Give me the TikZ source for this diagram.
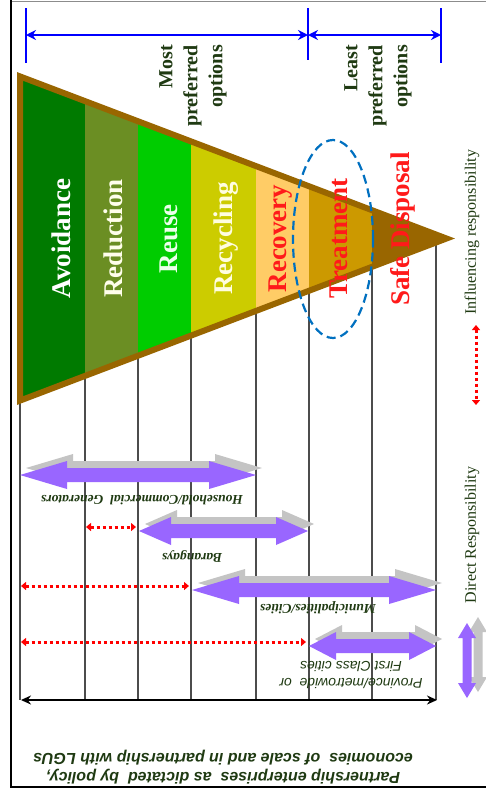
\documentclass[tikz,border=0pt]{standalone}
\usepackage{fontspec}
\setmainfont{Liberation Serif}
\newfontfamily\arialfont{Liberation Sans}
\usetikzlibrary{arrows.meta,calc,shapes.geometric}
\definecolor{avoidc}{HTML}{007A00}
\definecolor{reducec}{HTML}{6B8E23}
\definecolor{reusec}{HTML}{00CC00}
\definecolor{recyclec}{HTML}{CCCC00}
\definecolor{recoverc}{HTML}{FFCC66}
\definecolor{treatc}{HTML}{CC9900}
\definecolor{disposec}{HTML}{996600}
\definecolor{rimc}{HTML}{996600}
\definecolor{dirc}{HTML}{9966FF}
\definecolor{ghostc}{HTML}{C4C4C4}
\definecolor{txtc}{HTML}{1F3A12}
\definecolor{prefc}{HTML}{0000FF}
\definecolor{ovalc}{HTML}{0070C0}
\definecolor{labred}{HTML}{FF1A1A}
\newlength{\hwid}\setlength{\hwid}{14pt}
\newlength{\swid}\setlength{\swid}{7pt}
% block double arrow: style, left end, right end, head length
\newcommand{\dblarrow}[4]{%
  \fill[#1] let \p1=(#2), \p2=(#3) in
    (\x1,\y1) -- (\x1+#4,\y1+\hwid) -- (\x1+#4,\y1+\swid) -- (\x2-#4,\y1+\swid)
    -- (\x2-#4,\y1+\hwid) -- (\x2,\y1) -- (\x2-#4,\y1-\hwid) -- (\x2-#4,\y1-\swid)
    -- (\x1+#4,\y1-\swid) -- (\x1+#4,\y1-\hwid) -- cycle;}
% same, upright: style, top end, bottom end, head length
\newcommand{\dblarrowv}[4]{%
  \fill[#1] let \p1=(#2), \p2=(#3) in
    (\x1,\y1) -- (\x1+9pt,\y1-#4) -- (\x1+4.5pt,\y1-#4) -- (\x1+4.5pt,\y2+#4)
    -- (\x1+9pt,\y2+#4) -- (\x1,\y2) -- (\x1-9pt,\y2+#4) -- (\x1-4.5pt,\y2+#4)
    -- (\x1-4.5pt,\y1-#4) -- (\x1-9pt,\y1-#4) -- cycle;}

\begin{document}
\begin{tikzpicture}[
  x=1pt,
  y=-1pt,
  band/.style={rotate=90, anchor=base, inner sep=0pt, font=\fontsize{27}{30}\selectfont\bfseries},
  pref/.style={rotate=90, anchor=east, align=right, inner sep=0pt, text=txtc, font=\fontsize{20}{25}\selectfont\bfseries},
  legtext/.style={rotate=90, inner sep=0pt, text=txtc, font=\fontsize{16}{18}\selectfont},
  who/.style={rotate=180, inner sep=0pt, text=txtc, font=\fontsize{13.5}{16}\selectfont\bfseries\itshape},
  whosans/.style={rotate=180, inner sep=0pt, align=center, text=txtc, font=\arialfont\itshape\fontsize{14}{17}\selectfont},
  note/.style={rotate=180, inner sep=0pt, align=center, text=txtc, font=\arialfont\bfseries\itshape\fontsize{16}{19}\selectfont},
  gline/.style={draw=black!70, line width=1.1pt},
  rim/.style={draw=rimc, line width=6pt, line join=miter},
  prefspan/.style={draw=prefc, line width=2pt, {Stealth[length=10pt,width=10pt]}-{Stealth[length=10pt,width=10pt]}},
  dimtick/.style={draw=prefc, line width=1.2pt},
  infl/.style={draw=red, line width=3pt, dash pattern=on 3pt off 3pt, {Triangle[length=5pt,width=8pt]}-{Triangle[length=5pt,width=8pt]}},
  axisline/.style={draw=black, line width=2.5pt, {Stealth[length=10pt,width=9pt]}-{Stealth[length=10pt,width=9pt]}},
  oval/.style={ellipse, draw=ovalc, dash pattern=on 9pt off 5pt, line width=2.2pt, minimum width=80pt, minimum height=198pt},
  direct/.style={fill=dirc},
  ghost/.style={fill=ghostc}
]
\useasboundingbox (0,0) rectangle (486,796);
\fill[white] (0,0) rectangle (486,796);
\draw[black!45, line width=0.8pt] (11,1) -- (486,1);
\draw[black, line width=2.5pt] (11,0) -- (11,787) -- (486,787);

\coordinate (pA) at (26,35);
\coordinate (pB) at (308,35);
\coordinate (pC) at (441,35);
\foreach \t/\xx/\ya/\yb in {tA/26/8/63, tB/308/8/60, tC/441/8/63} {
  \coordinate (\t1) at (\xx,\ya);
  \coordinate (\t2) at (\xx,\yb);
  \draw[dimtick] (\t1) -- (\t2);
}
\draw[prefspan] (pA) -- (pB);
\draw[prefspan] (pB) -- (pC);
\node[pref] (most) at (193,45) {Most\\preferred\\options};
\node[pref] (least) at (378,45) {Least\\preferred\\options};

\foreach \gx in {20,85,138,191,256,309,372,436}
  \draw[gline] (\gx,240) -- (\gx,700);
\coordinate (axL) at (21,700);
\coordinate (axR) at (437,700);
\draw[axisline] (axL) -- (axR);

\coordinate (tl) at (20,76.4);
\coordinate (bl) at (20,400.6);
\coordinate (apex) at (446.5,238.5);
\begin{scope}
  \clip (tl) -- (apex) -- (bl) -- cycle;
  \foreach \xa/\xb/\c in {10/85/avoidc, 85/138/reducec, 138/191/reusec, 191/256/recyclec,
      256/309/recoverc, 309/372/treatc, 372/460/disposec}
    \fill[\c] (\xa,60) rectangle (\xb,420);
\end{scope}
\draw[rim] (tl) -- (apex) -- (bl) -- cycle;

\node[band, text=white] (avoid) at (70.5,238.5) {Avoidance};
\node[band, text=white!92!yellow] (reduce) at (122,238.5) {Reduction};
\node[band, text=white!92!green] (reuse) at (177,238.5) {Reuse};
\node[band, text=white!88!yellow] (recycle) at (232,238.5) {Recycling};
\node[band, text=labred] (recover) at (286,238.5) {Recovery};
\node[band, text=labred] (treat) at (347,238.5) {Treatment};
\node[band, text=labred] (dispose) at (409,229) {Safe Disposal};
\node[oval] (treatoval) at (333,239) {};

\coordinate (hhL) at (20,475);
\coordinate (hhR) at (256,475);
\coordinate (bgL) at (139,531);
\coordinate (bgR) at (308,531);
\coordinate (mcL) at (192,590);
\coordinate (mcR) at (436,590);
\coordinate (pvL) at (309,646);
\coordinate (pvR) at (436,646);
\dblarrow{ghost}{[shift={(6,-7)}]hhL}{[shift={(6,-7)}]hhR}{47pt}
\dblarrow{direct}{hhL}{hhR}{47pt}
\dblarrow{ghost}{[shift={(6,-7)}]bgL}{[shift={(6,-7)}]bgR}{32pt}
\dblarrow{direct}{bgL}{bgR}{32pt}
\dblarrow{ghost}{[shift={(6,-7)}]mcL}{[shift={(6,-7)}]mcR}{47pt}
\dblarrow{direct}{mcL}{mcR}{47pt}
\dblarrow{ghost}{[shift={(6,-7)}]pvL}{[shift={(6,-7)}]pvR}{27pt}
\dblarrow{direct}{pvL}{pvR}{27pt}

\coordinate (biL) at (86,527);
\coordinate (biR) at (136,527);
\coordinate (miL) at (21,586);
\coordinate (miR) at (189,586);
\coordinate (piL) at (21,642);
\coordinate (piR) at (306,642);
\draw[infl] (biL) -- (biR);
\draw[infl] (miL) -- (miR);
\draw[infl] (piL) -- (piR);

\node[who] (house) at (142,500) {Household/Commercial~~Generators};
\node[who] (brgy) at (192,556) {Barangays};
\node[who] (muni) at (318,608) {Municipalities/Cities};
\node[whosans] (prov) at (351,674.5) {Province/metrowide~~or\\First Class cities};
\node[note] (lgu) at (223,767.5) {Partnership enterprises~~as dictated~~by policy,\\economies~~of scale and in partnership with LGUs};

\coordinate (inT) at (476,325);
\coordinate (inB) at (476,405);
\draw[infl] (inT) -- (inB);
\node[legtext] (inleg) at (472,232) {Influencing responsibility};
\coordinate (dirT) at (467,623);
\coordinate (dirB) at (467,698);
\dblarrowv{ghost}{[shift={(11,-6)}]dirT}{[shift={(11,-6)}]dirB}{15pt}
\dblarrowv{direct}{dirT}{dirB}{15pt}
\node[legtext] (dirleg) at (472,535) {Direct Responsibility};
\end{tikzpicture}
\end{document}
